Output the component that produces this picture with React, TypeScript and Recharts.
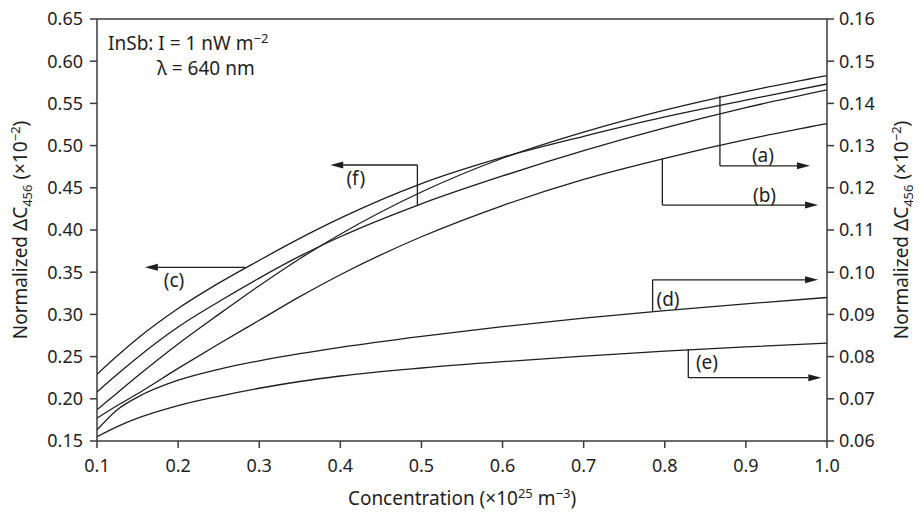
import React from 'react';
import { LineChart, Line, XAxis, YAxis, ReferenceLine, ReferenceDot } from 'recharts';

// Concentration (x10^25 m^-3)
const concentration = [0.1, 0.125, 0.15, 0.2, 0.25, 0.3, 0.35, 0.4, 0.5, 0.6, 0.7, 0.8, 0.9, 1.0];
// right-axis curves
const curveA = [0.0674, 0.0714, 0.0754, 0.083, 0.09, 0.0968, 0.1032, 0.109, 0.119, 0.127, 0.1332, 0.1384, 0.1428, 0.1466];
const curveB = [0.0654, 0.0684, 0.0712, 0.0772, 0.083, 0.0886, 0.0942, 0.0994, 0.1084, 0.1158, 0.122, 0.127, 0.1314, 0.1352];
const curveD = [0.0626, 0.0674, 0.0704, 0.0744, 0.077, 0.079, 0.0807, 0.0822, 0.0848, 0.0871, 0.0891, 0.0909, 0.0925, 0.094];
const curveE = [0.061, 0.0634, 0.0654, 0.0684, 0.0706, 0.0725, 0.0741, 0.0754, 0.0773, 0.0788, 0.0801, 0.0813, 0.0823, 0.0832];
// left-axis curves
const curveC = [0.229, 0.251, 0.2715, 0.307, 0.337, 0.364, 0.39, 0.414, 0.455, 0.486, 0.511, 0.534, 0.554, 0.573];
const curveF = [0.208, 0.229, 0.249, 0.285, 0.315, 0.343, 0.369, 0.392, 0.431, 0.464, 0.494, 0.521, 0.545, 0.566];

const xTicks = [0.1, 0.2, 0.3, 0.4, 0.5, 0.6, 0.7, 0.8, 0.9, 1.0];
const leftTicks = [0.15, 0.2, 0.25, 0.3, 0.35, 0.4, 0.45, 0.5, 0.55, 0.6, 0.65];
const rightTicks = [0.06, 0.07, 0.08, 0.09, 0.1, 0.11, 0.12, 0.13, 0.14, 0.15, 0.16];

const curveLabels = ['(a)', '(b)', '(c)', '(d)', '(e)', '(f)'];

// annotation leader lines (data units) and label anchors
const annotations = [
  { axis: 'right', pts: [[0.868, 0.1418], [0.868, 0.1252], [0.979, 0.1252]], label: curveLabels[0], at: [0.921, 0.1278] },
  { axis: 'right', pts: [[0.797, 0.1269], [0.797, 0.1159], [0.989, 0.1159]], label: curveLabels[1], at: [0.923, 0.1182] },
  { axis: 'left', pts: [[0.2825, 0.3558], [0.159, 0.3558]], label: curveLabels[2], at: [0.195, 0.3402] },
  { axis: 'right', pts: [[0.785, 0.0906], [0.785, 0.0982], [0.989, 0.0982]], label: curveLabels[3], at: [0.804, 0.0936] },
  { axis: 'right', pts: [[0.829, 0.0818], [0.829, 0.075], [0.993, 0.075]], label: curveLabels[4], at: [0.852, 0.0787] },
  { axis: 'left', pts: [[0.495, 0.429], [0.495, 0.477], [0.3876, 0.477]], label: curveLabels[5], at: [0.419, 0.4616] },
];

const noteAnchors = { line1: [0.1136, 0.6133], line2: [0.174, 0.5836] };

const data = concentration.map((x, i) => ({
  x,
  a: curveA[i],
  b: curveB[i],
  c: curveC[i],
  d: curveD[i],
  e: curveE[i],
  f: curveF[i],
}));

const INK = '#1e1e1e';
const AXIS = '#3a3a3a';

const segShape = (withHead: boolean) => (p: any) => {
  const { x1, y1, x2, y2 } = p;
  if ([x1, y1, x2, y2].some((v) => typeof v !== 'number' || isNaN(v))) return <g />;
  const dx = x2 - x1;
  const dy = y2 - y1;
  const len = Math.hypot(dx, dy) || 1;
  const ux = dx / len;
  const uy = dy / len;
  const L = 13;
  const W = 3.5;
  const bx = x2 - ux * L;
  const by = y2 - uy * L;
  return (
    <g>
      <line x1={x1} y1={y1} x2={withHead ? bx : x2} y2={withHead ? by : y2} stroke={INK} strokeWidth={1.3} />
      {withHead && (
        <polygon
          points={`${x2},${y2} ${bx - uy * W},${by + ux * W} ${bx + uy * W},${by - ux * W}`}
          fill={INK}
        />
      )}
    </g>
  );
};

const YTitle = (side: 'left' | 'right') => (props: any) => {
  const vb = props.viewBox || {};
  const cy = (vb.y ?? 19) + (vb.height ?? 422) / 2;
  const cx = side === 'left' ? (vb.x ?? 0) + 27 : (vb.x ?? 827) + 81;
  return (
    <text
      x={cx}
      y={cy}
      transform={`rotate(-90, ${cx}, ${cy})`}
      textAnchor="middle"
      fontSize={19}
      fill={INK}
    >
      Normalized ΔC
      <tspan fontSize={13} dy={5}>456</tspan>
      <tspan dy={-5}> (×10</tspan>
      <tspan fontSize={13} dy={-7}>−2</tspan>
      <tspan dy={7}>)</tspan>
    </text>
  );
};

const XTitle = (props: any) => {
  const vb = props.viewBox || {};
  const cx = (vb.x ?? 97) + (vb.width ?? 730) / 2;
  const cy = (vb.y ?? 441) + 64;
  return (
    <text x={cx} y={cy} textAnchor="middle" fontSize={19} fill={INK}>
      Concentration (×10
      <tspan fontSize={13} dy={-7}>25</tspan>
      <tspan dy={7}> m</tspan>
      <tspan fontSize={13} dy={-7}>−3</tspan>
      <tspan dy={7}>)</tspan>
    </text>
  );
};

const Note1 = (props: any) => {
  const vb = props.viewBox || {};
  return (
    <text x={vb.x} y={vb.y} fontSize={19} fill={INK}>
      InSb: I = 1 nW m
      <tspan fontSize={13} dy={-7}>−2</tspan>
    </text>
  );
};

const Note2 = (props: any) => {
  const vb = props.viewBox || {};
  return (
    <text x={vb.x} y={vb.y} fontSize={19} fill={INK}>
      λ = 640 nm
    </text>
  );
};

export default function App() {
  const segments: React.ReactNode[] = [];
  annotations.forEach((an, ai) => {
    for (let k = 0; k < an.pts.length - 1; k++) {
      const p0 = an.pts[k];
      const p1 = an.pts[k + 1];
      segments.push(
        <ReferenceLine
          key={`seg-${ai}-${k}`}
          yAxisId={an.axis}
          segment={[{ x: p0[0], y: p0[1] }, { x: p1[0], y: p1[1] }]}
          ifOverflow="visible"
          shape={segShape(k === an.pts.length - 2)}
        />
      );
    }
    segments.push(
      <ReferenceDot
        key={`lab-${ai}`}
        yAxisId={an.axis}
        x={an.at[0]}
        y={an.at[1]}
        r={0}
        fill="none"
        stroke="none"
        ifOverflow="visible"
        label={{ value: an.label, position: 'center', fontSize: 19, fill: INK }}
      />
    );
  });

  return (
    <div
      style={{
        position: 'absolute',
        left: 0,
        top: 0,
        width: 919,
        height: 512,
        background: '#fff',
        fontFamily: "'Noto Sans', sans-serif",
      }}
    >
      <LineChart width={919} height={512} data={data} margin={{ top: 19, right: 0, bottom: 0, left: 0 }}>
        <XAxis
          dataKey="x"
          type="number"
          domain={[0.1, 1.0]}
          allowDataOverflow
          ticks={xTicks}
          tickFormatter={(v: number) => v.toFixed(1)}
          height={71}
          tickSize={7}
          tickMargin={11}
          stroke={AXIS}
          strokeWidth={1.5}
          tick={{ fontSize: 18, fill: INK }}
          tickLine={{ stroke: AXIS, strokeWidth: 1.5 }}
          label={{ content: XTitle }}
        />
        <YAxis
          yAxisId="left"
          domain={[0.15, 0.65]}
          allowDataOverflow
          ticks={leftTicks}
          tickFormatter={(v: number) => v.toFixed(2)}
          width={97}
          tickSize={7}
          tickMargin={7}
          stroke={AXIS}
          strokeWidth={1.5}
          tick={{ fontSize: 18, fill: INK }}
          tickLine={{ stroke: AXIS, strokeWidth: 1.5 }}
          label={{ content: YTitle('left') }}
        />
        <YAxis
          yAxisId="right"
          orientation="right"
          domain={[0.06, 0.16]}
          allowDataOverflow
          ticks={rightTicks}
          tickFormatter={(v: number) => v.toFixed(2)}
          width={92}
          tickSize={7}
          tickMargin={5}
          stroke={AXIS}
          strokeWidth={1.5}
          tick={{ fontSize: 18, fill: INK }}
          tickLine={{ stroke: AXIS, strokeWidth: 1.5 }}
          label={{ content: YTitle('right') }}
        />
        <ReferenceLine yAxisId="left" y={0.65} stroke={AXIS} strokeWidth={1.5} ifOverflow="visible" />
        <Line yAxisId="right" dataKey="a" type="monotone" stroke={INK} strokeWidth={1.3} dot={false} isAnimationActive={false} />
        <Line yAxisId="right" dataKey="b" type="monotone" stroke={INK} strokeWidth={1.3} dot={false} isAnimationActive={false} />
        <Line yAxisId="left" dataKey="c" type="monotone" stroke={INK} strokeWidth={1.3} dot={false} isAnimationActive={false} />
        <Line yAxisId="right" dataKey="d" type="monotone" stroke={INK} strokeWidth={1.3} dot={false} isAnimationActive={false} />
        <Line yAxisId="right" dataKey="e" type="monotone" stroke={INK} strokeWidth={1.3} dot={false} isAnimationActive={false} />
        <Line yAxisId="left" dataKey="f" type="monotone" stroke={INK} strokeWidth={1.3} dot={false} isAnimationActive={false} />
        {segments}
        <ReferenceDot
          yAxisId="left"
          x={noteAnchors.line1[0]}
          y={noteAnchors.line1[1]}
          r={0}
          fill="none"
          stroke="none"
          ifOverflow="visible"
          label={{ content: Note1 }}
        />
        <ReferenceDot
          yAxisId="left"
          x={noteAnchors.line2[0]}
          y={noteAnchors.line2[1]}
          r={0}
          fill="none"
          stroke="none"
          ifOverflow="visible"
          label={{ content: Note2 }}
        />
      </LineChart>
    </div>
  );
}
